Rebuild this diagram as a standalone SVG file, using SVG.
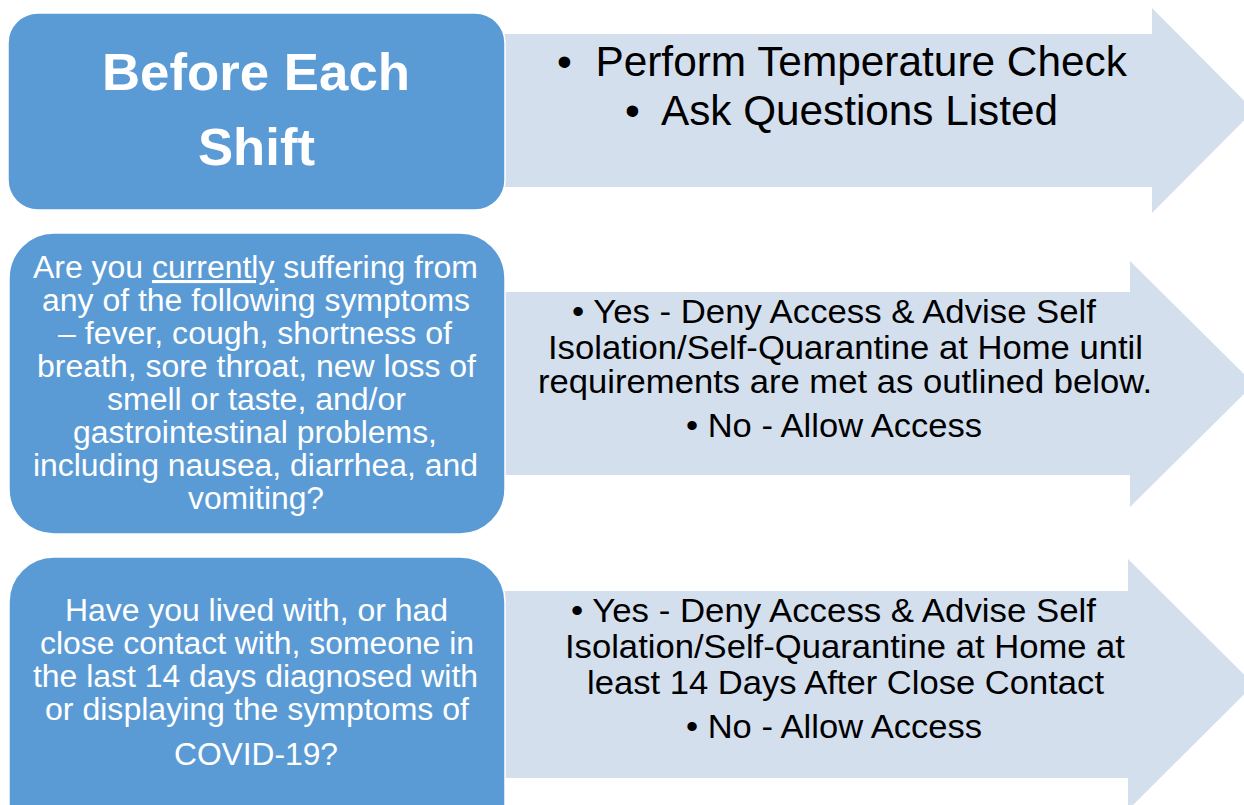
<svg xmlns="http://www.w3.org/2000/svg" width="1244" height="805" viewBox="0 0 1244 805">
  <style>
    .step { fill: #5B9BD5; stroke: #FFFFFF; stroke-width: 1.5; }
    .action { fill: #D4DFEE; }
    .head { font-family: "Liberation Sans", Arial, sans-serif; font-weight: bold; font-size: 52px; fill: #FFFFFF; text-anchor: middle; }
    .q { font-family: "Liberation Sans", Arial, sans-serif; font-size: 31px; fill: #FFFFFF; text-anchor: middle; }
    .a { font-family: "Liberation Sans", Arial, sans-serif; font-size: 33px; fill: #000000; text-anchor: middle; }
    .a1 { font-family: "Liberation Sans", Arial, sans-serif; font-size: 42px; fill: #000000; text-anchor: middle; }
  </style>
  <rect width="1244" height="805" fill="#FFFFFF"/>

  <!-- block arrows (drawn first so the rounded boxes overlap their tails) -->
  <g id="arrow-checks">
    <path class="action" d="M480,34 H1152 V8 L1254,110.5 L1152,213 V187 H480 Z"/>
    <text class="a1" x="842" y="76" textLength="570" lengthAdjust="spacingAndGlyphs">•&#160; Perform Temperature Check</text>
    <text class="a1" x="841.5" y="125" textLength="433" lengthAdjust="spacingAndGlyphs">•&#160; Ask Questions Listed</text>
  </g>
  <g id="arrow-symptoms">
    <path class="action" d="M480,292 H1130 V261 L1254,384 L1130,507 V475 H480 Z"/>
    <text class="a" x="834" y="323" textLength="524" lengthAdjust="spacingAndGlyphs">• Yes - Deny Access &amp; Advise Self</text>
    <text class="a" x="845.5" y="359" textLength="595" lengthAdjust="spacingAndGlyphs">Isolation/Self-Quarantine at Home until</text>
    <text class="a" x="845" y="393" textLength="614" lengthAdjust="spacingAndGlyphs">requirements are met as outlined below.</text>
    <text class="a" x="834" y="437" textLength="296" lengthAdjust="spacingAndGlyphs">• No - Allow Access</text>
  </g>
  <g id="arrow-contact">
    <path class="action" d="M480,591 H1128 V559 L1254,684.5 L1128,810 V778 H480 Z"/>
    <text class="a" x="833.5" y="622" textLength="525" lengthAdjust="spacingAndGlyphs">• Yes - Deny Access &amp; Advise Self</text>
    <text class="a" x="845" y="658" textLength="560" lengthAdjust="spacingAndGlyphs">Isolation/Self-Quarantine at Home at</text>
    <text class="a" x="845.5" y="694" textLength="517" lengthAdjust="spacingAndGlyphs">least 14 Days After Close Contact</text>
    <text class="a" x="834" y="738" textLength="296" lengthAdjust="spacingAndGlyphs">• No - Allow Access</text>
  </g>

  <!-- rounded step boxes -->
  <g id="step-before-shift">
    <rect class="step" x="8" y="13" width="497" height="197" rx="30" ry="30"/>
    <text class="head" x="256" y="90" textLength="308" lengthAdjust="spacingAndGlyphs">Before Each</text>
    <text class="head" x="256.5" y="165" textLength="117" lengthAdjust="spacingAndGlyphs">Shift</text>
  </g>
  <g id="step-symptoms">
    <rect class="step" x="9" y="233" width="496" height="301" rx="45" ry="45"/>
    <text class="q" x="255.5" y="278" textLength="445" lengthAdjust="spacingAndGlyphs">Are you <tspan text-decoration="underline">currently</tspan> suffering from</text>
    <text class="q" x="256" y="311" textLength="428" lengthAdjust="spacingAndGlyphs">any of the following symptoms</text>
    <text class="q" x="255" y="344" textLength="394" lengthAdjust="spacingAndGlyphs">– fever, cough, shortness of</text>
    <text class="q" x="256.5" y="377" textLength="439" lengthAdjust="spacingAndGlyphs">breath, sore throat, new loss of</text>
    <text class="q" x="256.5" y="410" textLength="299" lengthAdjust="spacingAndGlyphs">smell or taste, and/or</text>
    <text class="q" x="255" y="443" textLength="364" lengthAdjust="spacingAndGlyphs">gastrointestinal problems,</text>
    <text class="q" x="255.5" y="476" textLength="445" lengthAdjust="spacingAndGlyphs">including nausea, diarrhea, and</text>
    <text class="q" x="256" y="509" textLength="136" lengthAdjust="spacingAndGlyphs">vomiting?</text>
  </g>
  <g id="step-contact">
    <rect class="step" x="9" y="557" width="496" height="300" rx="45" ry="45"/>
    <text class="q" x="256.5" y="621" textLength="383" lengthAdjust="spacingAndGlyphs">Have you lived with, or had</text>
    <text class="q" x="257" y="654" textLength="434" lengthAdjust="spacingAndGlyphs">close contact with, someone in</text>
    <text class="q" x="255.5" y="687" textLength="445" lengthAdjust="spacingAndGlyphs">the last 14 days diagnosed with</text>
    <text class="q" x="257" y="720" textLength="424" lengthAdjust="spacingAndGlyphs">or displaying the symptoms of</text>
    <text class="q" x="256" y="765" textLength="164" lengthAdjust="spacingAndGlyphs">COVID-19?</text>
  </g>
</svg>
